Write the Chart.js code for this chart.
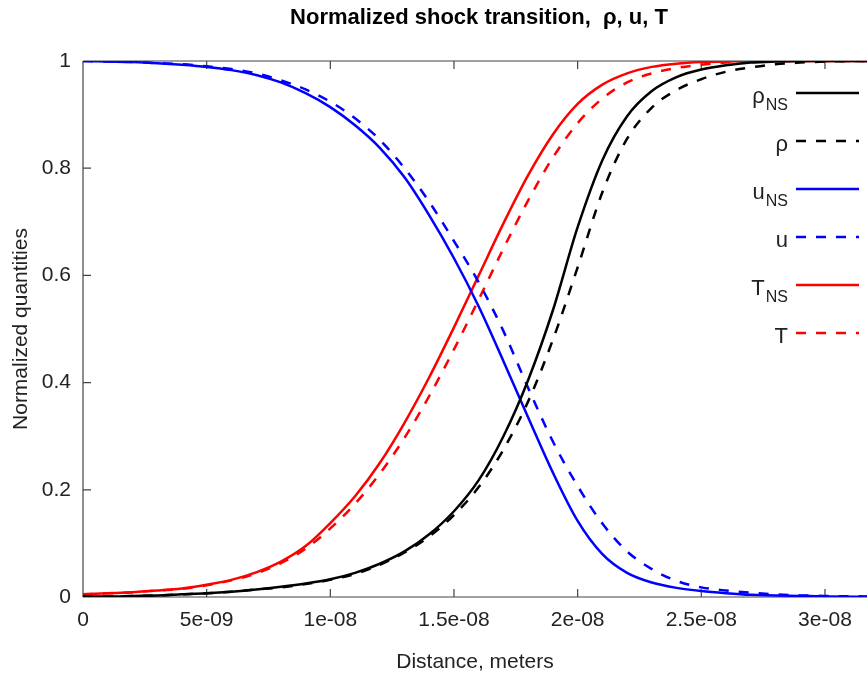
<!DOCTYPE html>
<html>
<head>
<meta charset="utf-8">
<script src="https://cdn.jsdelivr.net/npm/chart.js@4"></script>
<style>
  html, body { margin: 0; padding: 0; background: #fff; }
  #wrap { width: 867px; height: 673px; }
</style>
</head>
<body>
<div id="wrap"><canvas id="shockChart" width="867" height="673"></canvas></div>
<script>
// distance along the shock, meters
const xs = [0, 1e-9, 2e-9, 3e-9, 4e-9, 5e-9, 6e-9, 7e-9, 8e-9, 9e-9, 1e-8, 1.1e-8, 1.2e-8, 1.3e-8, 1.4e-8,
  1.5e-8, 1.6e-8, 1.7e-8, 1.8e-8, 1.9e-8, 2e-8, 2.1e-8, 2.2e-8, 2.3e-8, 2.4e-8, 2.5e-8, 2.6e-8, 2.7e-8,
  2.8e-8, 2.9e-8, 3e-8, 3.17e-8];

const rhoNS = [0.001, 0.001, 0.002, 0.003, 0.005, 0.007, 0.010, 0.014, 0.019, 0.025, 0.033, 0.045, 0.062,
  0.085, 0.117, 0.160, 0.218, 0.300, 0.405, 0.535, 0.690, 0.815, 0.897, 0.944, 0.970, 0.984, 0.992, 0.997,
  0.999, 1.0, 1.0, 1.0];
const rho = [0.001, 0.001, 0.002, 0.003, 0.005, 0.007, 0.010, 0.014, 0.018, 0.024, 0.032, 0.043, 0.060,
  0.083, 0.113, 0.153, 0.205, 0.275, 0.365, 0.480, 0.615, 0.755, 0.855, 0.913, 0.946, 0.966, 0.980, 0.988,
  0.994, 0.997, 0.999, 1.0];
const uNS = [1.0, 0.999, 0.998, 0.996, 0.993, 0.989, 0.983, 0.974, 0.960, 0.940, 0.914, 0.880, 0.838,
  0.783, 0.712, 0.632, 0.542, 0.440, 0.335, 0.232, 0.142, 0.080, 0.045, 0.027, 0.017, 0.011, 0.007, 0.004,
  0.003, 0.002, 0.001, 0.0005];
const u = [1.0, 0.999, 0.998, 0.996, 0.994, 0.990, 0.985, 0.977, 0.964, 0.947, 0.924, 0.893, 0.853,
  0.800, 0.737, 0.664, 0.587, 0.496, 0.390, 0.290, 0.207, 0.137, 0.085, 0.052, 0.030, 0.018, 0.012, 0.008,
  0.005, 0.003, 0.002, 0.001];
const TNS = [0.005, 0.007, 0.009, 0.012, 0.016, 0.023, 0.032, 0.046, 0.066, 0.095, 0.138, 0.188, 0.250,
  0.325, 0.410, 0.503, 0.600, 0.697, 0.787, 0.863, 0.920, 0.956, 0.977, 0.989, 0.995, 0.998, 0.999, 1.0,
  1.0, 1.0, 1.0, 1.0];
const T = [0.005, 0.007, 0.009, 0.012, 0.015, 0.022, 0.031, 0.044, 0.063, 0.090, 0.128, 0.174, 0.230,
  0.297, 0.375, 0.462, 0.555, 0.650, 0.740, 0.820, 0.884, 0.930, 0.960, 0.977, 0.987, 0.993, 0.997, 0.999,
  1.0, 1.0, 1.0, 1.0];

const xTickLabels = ['0', '5e-09', '1e-08', '1.5e-08', '2e-08', '2.5e-08', '3e-08'];
const yTickLabels = ['0', '0.2', '0.4', '0.6', '0.8', '1'];

const series = [
  { name: 'ρ', sub: 'NS', values: rhoNS, color: '#000000', dash: [] },
  { name: 'ρ', sub: '',   values: rho,   color: '#000000', dash: [10, 10] },
  { name: 'u', sub: 'NS', values: uNS,   color: '#0000ff', dash: [] },
  { name: 'u', sub: '',   values: u,     color: '#0000ff', dash: [10, 10] },
  { name: 'T', sub: 'NS', values: TNS,   color: '#ff0000', dash: [] },
  { name: 'T', sub: '',   values: T,     color: '#ff0000', dash: [10, 10] }
];

const FONT = 'Liberation Sans, Arial, sans-serif';
const textColor = '#222';
const frameColor = '#444';

// gnuplot-like frame, inward ticks, title and legend
const gnuplotLook = {
  id: 'gnuplotLook',
  beforeDatasetsDraw(chart) {
    const { ctx, chartArea: a, scales } = chart;
    ctx.save();
    ctx.strokeStyle = frameColor;
    ctx.lineWidth = 1.2;
    ctx.beginPath();
    ctx.moveTo(a.left, a.top); ctx.lineTo(a.right + 5, a.top);
    ctx.moveTo(a.left, a.top); ctx.lineTo(a.left, a.bottom);
    ctx.moveTo(a.left, a.bottom); ctx.lineTo(a.right + 5, a.bottom);
    const tl = 8;
    scales.x.ticks.forEach(t => {
      const px = scales.x.getPixelForValue(t.value);
      ctx.moveTo(px, a.bottom); ctx.lineTo(px, a.bottom - tl);
      ctx.moveTo(px, a.top); ctx.lineTo(px, a.top + tl);
    });
    scales.y.ticks.forEach(t => {
      const py = scales.y.getPixelForValue(t.value);
      ctx.moveTo(a.left, py); ctx.lineTo(a.left + tl, py);
    });
    ctx.stroke();
    ctx.restore();
  },
  afterDraw(chart) {
    const { ctx, chartArea: a } = chart;
    ctx.save();
    // title
    ctx.fillStyle = '#000';
    ctx.textAlign = 'center';
    ctx.textBaseline = 'middle';
    ctx.font = 'bold 22px ' + FONT;
    ctx.fillText('Normalized shock transition,  ρ, u, T', (a.left + a.right) / 2 + 4, 18);

    // legend
    const textRight = 788, lineL = 796, lineR = 859;
    chart.data.datasets.forEach((ds, i) => {
      const y = 93 + i * 48;
      ctx.fillStyle = textColor;
      ctx.textBaseline = 'alphabetic';
      ctx.textAlign = 'right';
      let x = textRight;
      if (ds.sub) {
        ctx.font = '16px ' + FONT;
        ctx.fillText(ds.sub, x, y + 17);
        x -= ctx.measureText(ds.sub).width + 1;
      }
      ctx.font = '22px ' + FONT;
      ctx.fillText(ds.label, x, y + 10);
      ctx.strokeStyle = ds.borderColor;
      ctx.lineWidth = 2.5;
      ctx.setLineDash(ds.borderDash);
      ctx.beginPath();
      ctx.moveTo(lineL, y); ctx.lineTo(lineR, y);
      ctx.stroke();
      ctx.setLineDash([]);
    });
    ctx.restore();
  }
};

new Chart('shockChart', {
  type: 'line',
  data: {
    datasets: series.map(s => ({
      label: s.name,
      sub: s.sub,
      data: xs.map((x, i) => ({ x: x, y: s.values[i] })),
      borderColor: s.color,
      backgroundColor: s.color,
      borderDash: s.dash,
      borderWidth: 2.5,
      pointRadius: 0,
      cubicInterpolationMode: 'monotone',
      fill: false
    }))
  },
  options: {
    responsive: false,
    animation: false,
    layout: { padding: { top: 61, right: 0, bottom: 0, left: 0 } },
    plugins: {
      legend: { display: false },
      title: { display: false },
      tooltip: { enabled: false }
    },
    scales: {
      x: {
        type: 'linear',
        min: 0,
        max: 3.17e-8,
        grid: { display: false, drawTicks: false },
        border: { display: false },
        ticks: {
          stepSize: 5e-9,
          includeBounds: false,
          autoSkip: false,
          maxRotation: 0,
          padding: 11,
          color: textColor,
          font: { family: FONT, size: 21 },
          callback: (v, i) => xTickLabels[i]
        },
        title: {
          display: true,
          text: 'Distance, meters',
          color: textColor,
          font: { family: FONT, size: 21, lineHeight: 1.0 },
          padding: { top: 0, bottom: 0 }
        },
        afterFit: s => { s.height = 76; }
      },
      y: {
        min: 0,
        max: 1,
        grid: { display: false, drawTicks: false },
        border: { display: false },
        ticks: {
          stepSize: 0.2,
          padding: 12,
          color: textColor,
          font: { family: FONT, size: 21 },
          callback: (v, i) => yTickLabels[i]
        },
        title: {
          display: true,
          text: 'Normalized quantities',
          color: textColor,
          font: { family: FONT, size: 21, lineHeight: 1.0 },
          padding: { top: 11, bottom: 0 }
        },
        afterFit: s => { s.width = 83; }
      }
    }
  },
  plugins: [gnuplotLook]
});
</script>
</body>
</html>
